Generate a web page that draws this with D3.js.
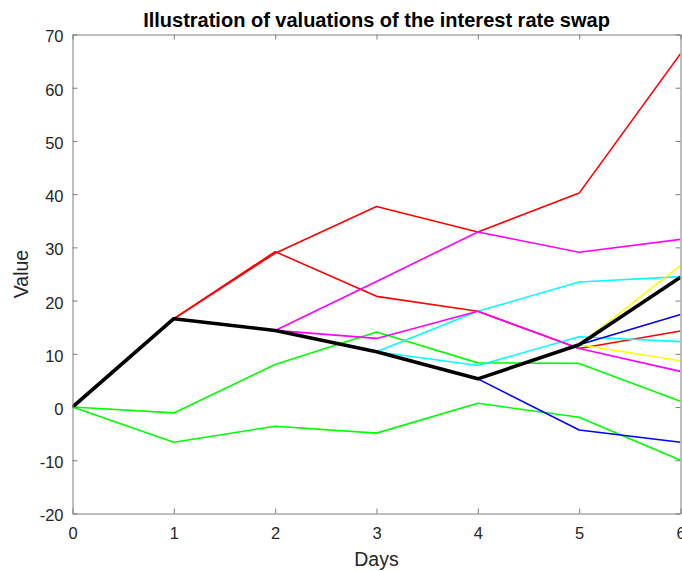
<!DOCTYPE html>
<html>
<head>
<meta charset="utf-8">
<script src="https://cdn.jsdelivr.net/npm/d3@7"></script>
<style>
  html, body { margin: 0; padding: 0; background: #fff; overflow: hidden; }
  svg { display: block; font-family: "Liberation Sans", Arial, Helvetica, sans-serif; }
</style>
</head>
<body>
<svg id="chart" width="682" height="571"></svg>
<script>
// Days along the horizontal axis
const days = [0, 1, 2, 3, 4, 5, 6];

// Simulated swap value paths, one value per day
const redPathA     = [0, 16.6, 28.9, 37.7, 32.9, 40.2, 66.4];
const redPathB     = [0, 16.6, 29.2, 20.8, 18.0, 11.0, 14.3];
const greenPathA   = [0, -1.1, 8.0, 14.1, 8.3, 8.2, 1.1];
const greenPathB   = [0, -6.6, -3.6, -4.9, 0.7, -1.9, -10.0];
const cyanPathA    = [0, 16.6, 14.4, 10.4, 18.0, 23.5, 24.5];
const cyanPathB    = [0, 16.6, 14.4, 10.4, 7.8, 13.2, 12.3];
const magentaPathA = [0, 16.6, 14.4, 23.6, 32.9, 29.1, 31.5];
const magentaPathB = [0, 16.6, 14.4, 12.9, 18.0, 11.0, 6.7];
const bluePathA    = [0, 16.6, 14.4, 10.4, 5.3, 11.7, 17.4];
const bluePathB    = [0, 16.6, 14.4, 10.4, 5.3, -4.3, -6.6];
const yellowPathA  = [0, 16.6, 14.4, 10.4, 5.3, 11.7, 26.6];
const yellowPathB  = [0, 16.6, 14.4, 10.4, 5.3, 11.7, 8.7];
// Highlighted path
const mainPath     = [0, 16.6, 14.4, 10.4, 5.3, 11.7, 24.4];

const xTicks = [0, 1, 2, 3, 4, 5, 6];
const yTicks = [-20, -10, 0, 10, 20, 30, 40, 50, 60, 70];

const paths = [
  { values: greenPathA,   color: "#00ff00" },
  { values: greenPathB,   color: "#00ff00" },
  { values: redPathA,     color: "#ff0000" },
  { values: redPathB,     color: "#ff0000" },
  { values: cyanPathA,    color: "#00ffff" },
  { values: cyanPathB,    color: "#00ffff" },
  { values: magentaPathA, color: "#ff00ff" },
  { values: magentaPathB, color: "#ff00ff" },
  { values: bluePathA,    color: "#0000ff" },
  { values: bluePathB,    color: "#0000ff" },
  { values: yellowPathA,  color: "#ffff00" },
  { values: yellowPathB,  color: "#ffff00" }
];

const svg = d3.select("#chart");
const plotLeft = 72.5, plotRight = 680.5, plotTop = 34.5, plotBottom = 513.5;

const x = d3.scaleLinear().domain([0, 6]).range([plotLeft, plotRight]);
const y = d3.scaleLinear().domain([-20, 70]).range([plotBottom, plotTop]);

const axisColor = "#7f7f7f";
const textColor = "#262626";
// Plain hyphen for negative tick labels
const plainNumber = d => String(d);

svg.append("defs").append("clipPath").attr("id", "plotClip")
  .append("rect").attr("x", plotLeft).attr("y", plotTop)
  .attr("width", plotRight - plotLeft).attr("height", plotBottom - plotTop);

const line = d3.line()
  .x((d, i) => x(days[i]))
  .y(d => y(d));

const plot = svg.append("g").attr("clip-path", "url(#plotClip)");

plot.selectAll("path.sim")
  .data(paths)
  .join("path")
  .attr("class", "sim")
  .attr("d", d => line(d.values))
  .attr("fill", "none")
  .attr("stroke", d => d.color)
  .attr("stroke-width", 1.6)
  .attr("stroke-linejoin", "round");

plot.append("path")
  .attr("d", line(mainPath))
  .attr("fill", "none")
  .attr("stroke", "#000")
  .attr("stroke-width", 3.6)
  .attr("stroke-linejoin", "round");

// Axes with inward ticks on all four sides
const tickLen = 5;
const xAxisB = d3.axisBottom(x).tickValues(xTicks).tickSizeInner(-tickLen).tickSizeOuter(0).tickPadding(14).tickFormat(plainNumber);
const xAxisT = d3.axisTop(x).tickValues(xTicks).tickSizeInner(-tickLen).tickSizeOuter(0).tickFormat("");
const yAxisL = d3.axisLeft(y).tickValues(yTicks).tickSizeInner(-tickLen).tickSizeOuter(0).tickPadding(9).tickFormat(plainNumber);
const yAxisR = d3.axisRight(y).tickValues(yTicks).tickSizeInner(-tickLen).tickSizeOuter(0).tickFormat("");

function styleAxis(g) {
  g.select(".domain").attr("stroke", axisColor).attr("stroke-width", 1);
  g.selectAll(".tick line").attr("stroke", axisColor).attr("stroke-width", 1);
  g.selectAll(".tick text").attr("fill", textColor).attr("font-size", 16.5)
    .attr("font-family", "Liberation Sans, Arial, sans-serif");
}

svg.append("g").attr("transform", `translate(0,${plotBottom})`).call(xAxisB).call(styleAxis)
  .selectAll(".tick text").attr("dy", "0.71em");
svg.append("g").attr("transform", `translate(0,${plotTop})`).call(xAxisT).call(styleAxis);
svg.append("g").attr("transform", `translate(${plotLeft},0)`).call(yAxisL).call(styleAxis)
  .selectAll(".tick text").attr("dy", "0.45em");
svg.append("g").attr("transform", `translate(${plotRight},0)`).call(yAxisR).call(styleAxis);

// Title and axis labels
svg.append("text")
  .attr("x", (plotLeft + plotRight) / 2).attr("y", 27)
  .attr("text-anchor", "middle")
  .attr("font-size", 20).attr("font-weight", "bold")
  .attr("fill", "#000")
  .text("Illustration of valuations of the interest rate swap");

svg.append("text")
  .attr("x", (plotLeft + plotRight) / 2).attr("y", 566)
  .attr("text-anchor", "middle")
  .attr("font-size", 19.5)
  .attr("fill", textColor)
  .text("Days");

svg.append("text")
  .attr("transform", `translate(28,${(plotTop + plotBottom) / 2}) rotate(-90)`)
  .attr("text-anchor", "middle")
  .attr("font-size", 19.5)
  .attr("fill", textColor)
  .text("Value");
</script>
</body>
</html>
